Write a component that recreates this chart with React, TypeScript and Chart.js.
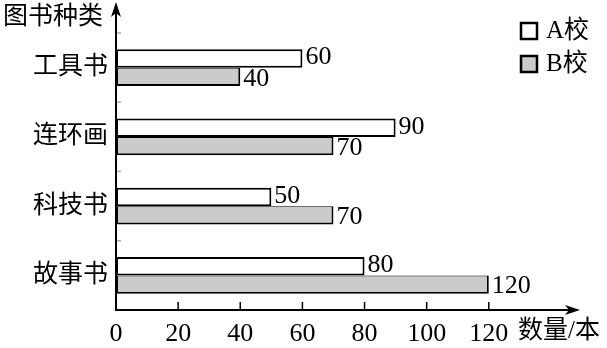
import React, { useEffect, useRef } from "react";
import { Chart, registerables } from "chart.js";

Chart.register(...registerables);

const categories = ["工具书", "连环画", "科技书", "故事书"];
const seriesA = [60, 90, 50, 80];
const seriesB = [40, 70, 70, 120];
const xTicks = [0, 20, 40, 60, 80, 100, 120];
const seriesNames = ["A校", "B校"];
const yTitle = "图书种类";
const xTitle = "数量/本";

const FONT = "'Liberation Serif', 'Noto Sans CJK SC', serif";
const FILL_A = "#ffffff";
const FILL_B = "#cbcbcb";

const decorPlugin = {
  id: "decor",
  afterDatasetsDraw(chart: any) {
    const ctx = chart.ctx;
    const x = chart.scales.x;
    const y = chart.scales.y;
    const left = x.getPixelForValue(0);
    const bottom = y.bottom;
    ctx.save();
    ctx.strokeStyle = "#000";
    ctx.fillStyle = "#000";
    ctx.lineWidth = 2;
    // y axis line with arrow
    ctx.beginPath();
    ctx.moveTo(left, bottom + 1);
    ctx.lineTo(left, 12);
    ctx.stroke();
    ctx.beginPath();
    ctx.moveTo(left, 2);
    ctx.lineTo(left - 5, 17);
    ctx.lineTo(left, 13);
    ctx.lineTo(left + 5, 17);
    ctx.closePath();
    ctx.fill();
    // x axis line with arrow
    const xEnd = 580;
    ctx.beginPath();
    ctx.moveTo(left - 1, bottom);
    ctx.lineTo(xEnd - 8, bottom);
    ctx.stroke();
    ctx.beginPath();
    ctx.moveTo(xEnd, bottom);
    ctx.lineTo(xEnd - 15, bottom - 5);
    ctx.lineTo(xEnd - 11, bottom);
    ctx.lineTo(xEnd - 15, bottom + 5);
    ctx.closePath();
    ctx.fill();
    // x ticks (inward)
    ctx.lineWidth = 1.5;
    xTicks.forEach((v) => {
      if (v === 0) return;
      const px = x.getPixelForValue(v);
      ctx.beginPath();
      ctx.moveTo(px, bottom);
      ctx.lineTo(px, bottom - 8);
      ctx.stroke();
    });
    // y small gray ticks at category boundaries
    ctx.strokeStyle = "#aaa";
    ctx.lineWidth = 1.5;
    const n = categories.length;
    const step = (y.bottom - y.top) / n;
    for (let i = 0; i < n; i++) {
      const py = y.top + i * step;
      ctx.beginPath();
      ctx.moveTo(left + 1, py);
      ctx.lineTo(left + 5, py);
      ctx.stroke();
    }
    // data labels
    ctx.fillStyle = "#000";
    ctx.font = `26px ${FONT}`;
    ctx.textAlign = "left";
    ctx.textBaseline = "middle";
    chart.data.datasets.forEach((ds: any, di: number) => {
      const meta = chart.getDatasetMeta(di);
      meta.data.forEach((bar: any, i: number) => {
        ctx.fillText(String(ds.data[i]), bar.x + 3, bar.y + (di === 0 ? -1 : 2));
      });
    });
    // titles
    ctx.font = `25px ${FONT}`;
    ctx.textBaseline = "middle";
    ctx.fillText(yTitle, 3, 17);
    ctx.fillText(xTitle, 518, 331);
    // legend
    const fills = [FILL_A, FILL_B];
    seriesNames.forEach((name, i) => {
      const ly = 23 + i * 33;
      ctx.fillStyle = fills[i];
      ctx.fillRect(521, ly, 16, 16);
      ctx.strokeStyle = "#000";
      ctx.lineWidth = 2.5;
      ctx.strokeRect(521, ly, 16, 16);
      ctx.fillStyle = "#000";
      ctx.font = `25px ${FONT}`;
      ctx.fillText(name, 546, ly + 8);
    });
    ctx.restore();
  },
};

export default function App() {
  const ref = useRef<HTMLCanvasElement>(null);
  useEffect(() => {
    if (!ref.current) return;
    const chart = new Chart(ref.current, {
      type: "bar",
      data: {
        labels: categories,
        datasets: [
          {
            label: seriesNames[0],
            data: seriesA,
            backgroundColor: FILL_A,
            borderColor: "#000",
            borderWidth: { top: 2, left: 2, right: 2, bottom: 2 },
            borderSkipped: false,
            categoryPercentage: 0.53,
            barPercentage: 1,
          },
          {
            label: seriesNames[1],
            data: seriesB,
            backgroundColor: FILL_B,
            borderColor: "#000",
            borderWidth: { top: 1, left: 2, right: 2, bottom: 2 },
            borderSkipped: false,
            categoryPercentage: 0.53,
            barPercentage: 1,
          },
        ],
      },
      options: {
        indexAxis: "y",
        animation: false,
        responsive: false,
        devicePixelRatio: 1,
        layout: { padding: { top: 33, right: 25, left: 0, bottom: 0 } },
        plugins: {
          legend: { display: false },
          tooltip: { enabled: false },
        },
        scales: {
          x: {
            type: "linear",
            min: 0,
            max: 150,
            afterBuildTicks: (s: any) => {
              s.ticks = xTicks.map((v) => ({ value: v }));
            },
            afterFit: (s: any) => {
              s.height = 38;
            },
            grid: { display: false, drawTicks: false },
            border: { display: false },
            ticks: {
              color: "#000",
              font: { family: FONT, size: 26 },
              padding: 9,
              autoSkip: false,
              maxRotation: 0,
            },
          },
          y: {
            type: "category",
            afterFit: (s: any) => {
              s.width = 116;
            },
            grid: { display: false, drawTicks: false },
            border: { display: false },
            ticks: {
              color: "#000",
              font: { family: FONT, size: 25 },
              padding: 8,
            },
          },
        },
      },
      plugins: [decorPlugin],
    } as any);
    return () => chart.destroy();
  }, []);
  return (
    <div style={{ position: "fixed", left: 0, top: 0, width: 607, height: 348, background: "#fff" }}>
      <canvas ref={ref} width={607} height={348} />
    </div>
  );
}
